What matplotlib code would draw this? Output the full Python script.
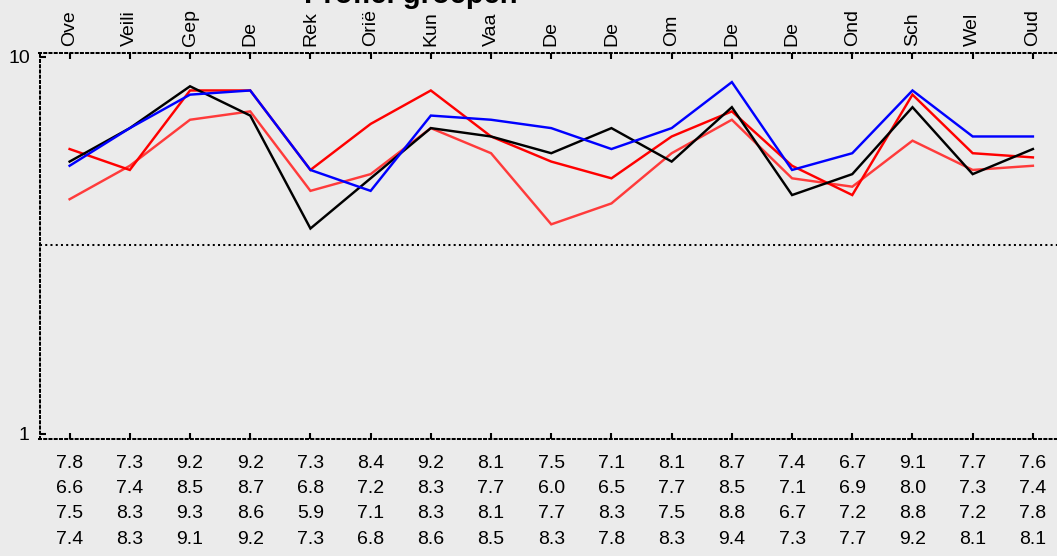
import numpy as np
import matplotlib as mpl
import matplotlib.pyplot as plt
from matplotlib import transforms

# -------------------- Data --------------------
CATEGORIES = ["Ove", "Veili", "Gep", "De", "Rek", "Oriё", "Kun", "Vaa", "De",
              "De", "Om", "De", "De", "Ond", "Sch", "Wel", "Oud"]

GROUP_1 = [7.8, 7.3, 9.2, 9.2, 7.3, 8.4, 9.2, 8.1, 7.5, 7.1, 8.1, 8.7, 7.4, 6.7, 9.1, 7.7, 7.6]
GROUP_2 = [6.6, 7.4, 8.5, 8.7, 6.8, 7.2, 8.3, 7.7, 6.0, 6.5, 7.7, 8.5, 7.1, 6.9, 8.0, 7.3, 7.4]
GROUP_3 = [7.5, 8.3, 9.3, 8.6, 5.9, 7.1, 8.3, 8.1, 7.7, 8.3, 7.5, 8.8, 6.7, 7.2, 8.8, 7.2, 7.8]
GROUP_4 = [7.4, 8.3, 9.1, 9.2, 7.3, 6.8, 8.6, 8.5, 8.3, 7.8, 8.3, 9.4, 7.3, 7.7, 9.2, 8.1, 8.1]

Y_TICKS = [1, 10]
MIDLINE = 5.5
TITLE = "Profiel groepen"

# -------------------- Styling --------------------
mpl.rcParams["font.family"] = ["Liberation Sans", "DejaVu Sans"]
mpl.rcParams["font.size"] = 14

W, H, DPI = 1057, 556, 100
BG = "#ebebeb"
DOTS = (0, (1, 1.6))
DOT_LW = 1.45
LINE_LW = 1.75

fig = plt.figure(figsize=(W / DPI, H / DPI), dpi=DPI, facecolor=BG)
ax = fig.add_axes([39.5 / W, (H - 438.5) / H, (1063 - 39.5) / W, (438.5 - 53) / H])
ax.set_facecolor(BG)

x = np.arange(len(CATEGORIES))
# drawing order: light red, red, black, blue
ax.plot(x, GROUP_2, color="#ff3b3b", lw=LINE_LW, solid_joinstyle="miter")
ax.plot(x, GROUP_1, color="#ff0000", lw=LINE_LW, solid_joinstyle="miter")
ax.plot(x, GROUP_3, color="#000000", lw=LINE_LW, solid_joinstyle="miter")
ax.plot(x, GROUP_4, color="#0000ff", lw=LINE_LW, solid_joinstyle="miter")

ax.axhline(MIDLINE, color="black", lw=DOT_LW, ls=DOTS)

ax.set_xlim(-0.5, len(CATEGORIES) - 0.5)
ax.set_ylim(1 - 5 / 41.9, 10 + 4 / 41.9)

# x labels on top, rotated
ax.set_xticks(x)
ax.set_xticklabels(CATEGORIES, rotation=90)
ax.tick_params(axis="x", which="both", top=True, bottom=True, labeltop=True,
               labelbottom=False, direction="in", length=4, width=1.5, pad=5,
               labelsize=14)
ax.set_yticks(Y_TICKS)
ax.set_yticklabels([str(v) for v in Y_TICKS])
ax.tick_params(axis="y", direction="in", length=4, width=1.5, pad=7, labelsize=14)

for side, sp in ax.spines.items():
    sp.set_linestyle(DOTS)
    sp.set_linewidth(DOT_LW)
    sp.set_color("black")
ax.spines["right"].set_visible(False)

# value table under the plot
trans = transforms.blended_transform_factory(ax.transData, fig.transFigure)
row_y = [463, 488.5, 514, 539]
for vals, yp in zip([GROUP_1, GROUP_2, GROUP_3, GROUP_4], row_y):
    for xi, v in zip(x, vals):
        ax.text(xi, 1 - yp / H, f"{v:.1f}", transform=trans, ha="center",
                va="center", fontsize=14, clip_on=False)

fig.text(411 / W, 1 - 3 / H, TITLE, ha="center", va="baseline",
         fontsize=21, fontweight="bold")

fig.savefig("out.png", dpi=DPI, facecolor=BG)
